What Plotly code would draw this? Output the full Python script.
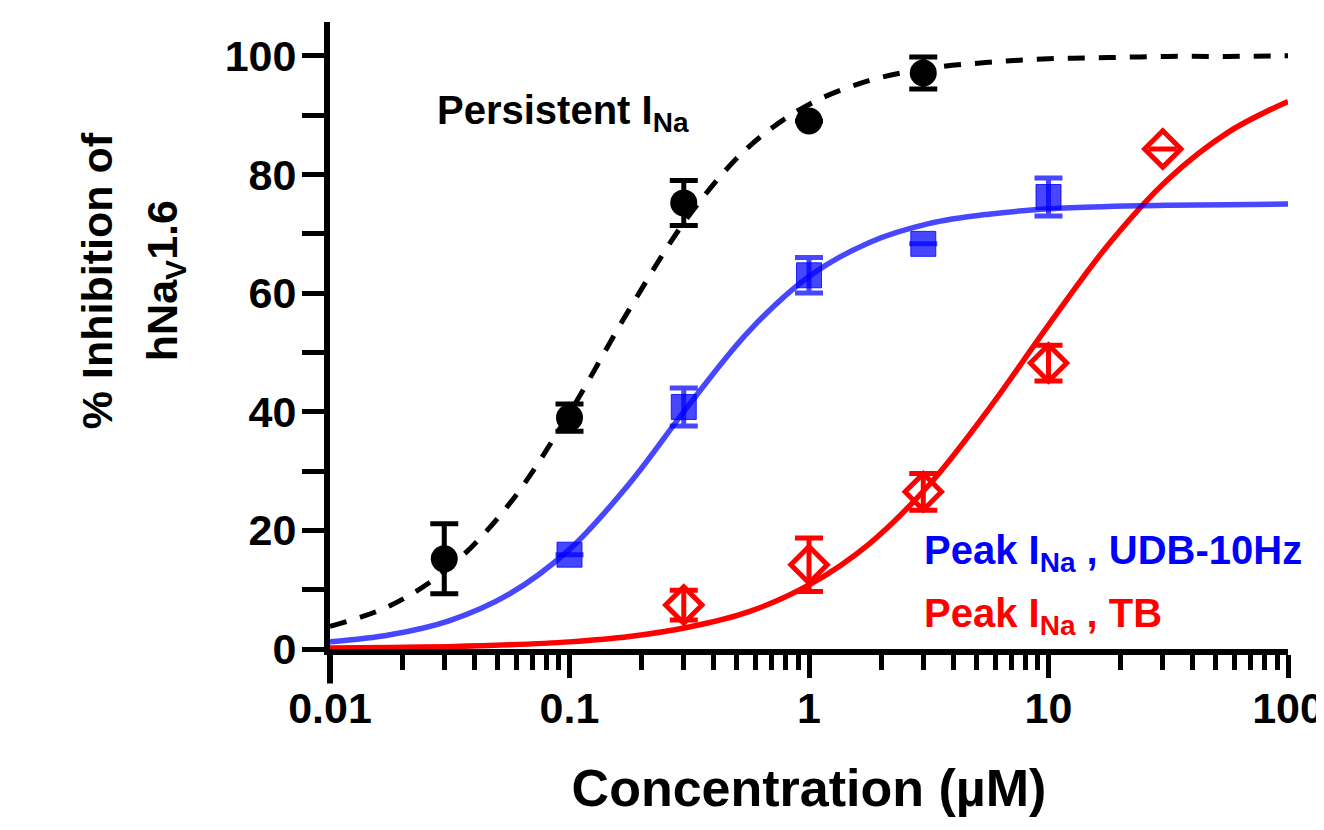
import plotly.graph_objects as go

# ---------------- data ----------------
conc_persistent = [0.03, 0.1, 0.3, 1, 3]
inh_persistent = [15.2, 39.0, 75.2, 89.0, 97.1]
sem_persistent = [5.9, 2.3, 3.8, 0.0, 2.7]

conc_udb = [0.1, 0.3, 1, 3, 10]
inh_udb = [15.9, 40.8, 63.0, 68.3, 76.2]
sem_udb = [0.0, 3.2, 3.0, 0.0, 3.2]

conc_tb = [0.3, 1, 3, 10, 30]
inh_tb = [7.4, 14.2, 26.5, 48.2, 84.3]
sem_tb = [2.5, 4.5, 3.1, 3.0, 0.0]

# fitted curves at quarter-decade steps
fit_conc = [0.01, 0.0178, 0.0316, 0.0562, 0.1, 0.178, 0.316, 0.562, 1,
            1.78, 3.16, 5.62, 10, 17.8, 31.6, 56.2, 100]
fit_persistent = [3.8, 7.3, 13.8, 24.5, 39.8, 57.3, 73.1, 84.7, 91.8,
                  95.8, 97.9, 98.9, 99.5, 99.7, 99.9, 99.9, 100.0]
fit_udb = [1.2, 2.4, 4.8, 9.3, 16.8, 27.9, 41.2, 53.6, 62.8,
           68.5, 71.7, 73.3, 74.2, 74.6, 74.8, 74.9, 75.0]
fit_tb = [0.15, 0.25, 0.4, 0.7, 1.2, 2.1, 3.7, 6.3, 10.8,
          17.7, 27.6, 40.4, 54.6, 68.2, 79.2, 87.1, 92.3]

x_tickvals = [0.01, 0.1, 1, 10, 100]
x_ticktext = ["0.01", "0.1", "1", "10", "100"]
x_minorvals = [m * d for d in [0.01, 0.1, 1, 10] for m in range(2, 10)]
y_tickvals = [0, 20, 40, 60, 80, 100]
y_minorvals = [10, 30, 50, 70, 90]

FONT = "Liberation Sans"
BLUE_LINE = "rgba(0,0,255,0.72)"
BLUE_FILL = "rgba(0,0,255,0.72)"
RED = "#FF0000"

fig = go.Figure()

# curves
fig.add_trace(go.Scatter(x=fit_conc, y=fit_tb, mode="lines", line=dict(color=RED, width=5.5, shape="spline"),
                         showlegend=False, hoverinfo="skip"))
fig.add_trace(go.Scatter(x=fit_conc, y=fit_udb, mode="lines", line=dict(color=BLUE_LINE, width=5.5, shape="spline"),
                         showlegend=False, hoverinfo="skip"))
fig.add_trace(go.Scatter(x=fit_conc, y=fit_persistent, mode="lines",
                         line=dict(color="black", width=5, shape="spline", dash="17px,14px"),
                         showlegend=False, hoverinfo="skip"))

# data points
fig.add_trace(go.Scatter(
    x=conc_tb, y=inh_tb, mode="markers",
    marker=dict(symbol="diamond-open", size=28, color=RED, line=dict(color=RED, width=5)),
    error_y=dict(type="data", array=sem_tb, color=RED, thickness=5, width=14),
    cliponaxis=False, showlegend=False))
fig.add_trace(go.Scatter(
    x=conc_udb, y=inh_udb, mode="markers",
    marker=dict(symbol="square", size=25, color=BLUE_FILL, line=dict(color="rgba(0,0,255,0.8)", width=1)),
    error_y=dict(type="data", array=sem_udb, color=BLUE_LINE, thickness=5, width=14),
    cliponaxis=False, showlegend=False))
fig.add_trace(go.Scatter(
    x=conc_persistent, y=inh_persistent, mode="markers",
    marker=dict(symbol="circle", size=27, color="black"),
    error_y=dict(type="data", array=sem_persistent, color="black", thickness=5, width=14),
    cliponaxis=False, showlegend=False))

fig.update_xaxes(
    type="log", range=[-2, 2], automargin=False,
    tickvals=x_tickvals, ticktext=x_ticktext,
    ticks="outside", ticklen=23, tickwidth=5, tickcolor="black",
    minor=dict(tickvals=x_minorvals, ticks="outside", ticklen=15, tickwidth=5, tickcolor="black"),
    showline=True, linewidth=6, linecolor="black",
    showgrid=False, zeroline=False,
    ticklabelstandoff=-7,
    tickfont=dict(family=FONT, size=43, color="black", weight="bold"),
    title=dict(text="Concentration (\u00b5M)", font=dict(family=FONT, size=52, color="black", weight="bold"),
               standoff=41),
)
fig.update_yaxes(
    range=[0, 105.7], automargin=False,
    tickvals=y_tickvals,
    ticks="outside", ticklen=22, tickwidth=5, tickcolor="black",
    minor=dict(tickvals=y_minorvals, ticks="outside", ticklen=22, tickwidth=5, tickcolor="black"),
    showline=True, linewidth=6, linecolor="black",
    showgrid=False, zeroline=False,
    ticklabelstandoff=-3,
    tickfont=dict(family=FONT, size=43, color="black", weight="bold"),
)

# y-axis title (two lines)
fig.add_annotation(text="% Inhibition of", xref="paper", yref="paper", x=-0.243, y=0.587,
                   textangle=-90, showarrow=False, xanchor="center", yanchor="middle",
                   font=dict(family=FONT, size=43, color="black", weight="bold"))
fig.add_annotation(text="hNa<sub>V</sub>1.6", xref="paper", yref="paper", x=-0.172, y=0.587,
                   textangle=-90, showarrow=False, xanchor="center", yanchor="middle",
                   font=dict(family=FONT, size=43, color="black", weight="bold"))

# series labels
fig.add_annotation(text="Persistent I<sub>Na</sub>", x=-1.56, y=90.3, xref="x", yref="y",
                   showarrow=False, xanchor="left", yanchor="middle",
                   font=dict(family=FONT, size=40, color="black", weight="bold"))
fig.add_annotation(text="Peak I<sub>Na</sub> , UDB-10Hz", x=0.472, y=16.2, xref="x", yref="y",
                   showarrow=False, xanchor="left", yanchor="middle",
                   font=dict(family=FONT, size=40, color="#0000FF", weight="bold"))
fig.add_annotation(text="Peak I<sub>Na</sub> , TB", x=0.472, y=5.6, xref="x", yref="y",
                   showarrow=False, xanchor="left", yanchor="middle",
                   font=dict(family=FONT, size=40, color=RED, weight="bold"))

# y-axis line extension below the x-axis
fig.add_shape(type="line", xref="paper", yref="paper", x0=0, x1=0, y0=0, y1=-0.055,
              line=dict(color="black", width=6))

# the page adds an 8px body margin, so the margins are offset by 8px
fig.update_layout(
    width=1324, height=830,
    margin=dict(l=322, r=44, t=14, b=189, autoexpand=False),
    plot_bgcolor="white", paper_bgcolor="white",
    showlegend=False,
)

fig.write_html("out.html")
